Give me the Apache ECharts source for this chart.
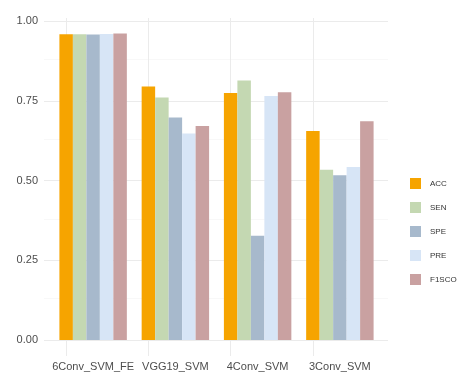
<!DOCTYPE html>
<html>
<head>
<meta charset="utf-8">
<script src="https://cdn.jsdelivr.net/npm/echarts@6/dist/echarts.min.js"></script>
<style>
  html, body { margin: 0; padding: 0; background: #fff; }
  #chart { width: 465px; height: 378px; }
</style>
</head>
<body>
<div id="chart"></div>
<script>
// 数据
const models = ['6Conv_SVM_FE', 'VGG19_SVM', '4Conv_SVM', '3Conv_SVM']
const metrics = ['ACC', 'SEN', 'SPE', 'PRE', 'F1SCO']
const acc = [0.959, 0.795, 0.775, 0.656]
const sen = [0.959, 0.761, 0.814, 0.534]
const spe = [0.958, 0.698, 0.327, 0.517]
const pre = [0.960, 0.648, 0.765, 0.543]
const f1sco = [0.961, 0.671, 0.777, 0.686]
const majorTicks = [0, 0.25, 0.5, 0.75, 1]
const minorTicks = [0.125, 0.375, 0.625, 0.875]

const colors = ['#F6A400', '#C4D8B2', '#A7B9CC', '#D7E5F6', '#C9A1A1']
const values = [acc, sen, spe, pre, f1sco]

const myChart = echarts.init(document.getElementById('chart'))

// 网格线 (ggplot 风格)
const vLines = models.map((m) => ({ xAxis: m, lineStyle: { color: '#EBEBEB', width: 1, type: 'solid' } }))
const hLines = [].concat(
  majorTicks.map((v) => ({ yAxis: v, lineStyle: { color: '#EBEBEB', width: 1, type: 'solid' } })),
  minorTicks.map((v) => ({ yAxis: v, lineStyle: { color: '#F4F4F4', width: 0.6, type: 'solid' } }))
)

const series = metrics.map((name, i) => {
  const s = {
    name: name,
    type: 'bar',
    data: values[i],
    itemStyle: { color: colors[i] },
    barGap: '0%',
    barCategoryGap: '18%'
  }
  if (i === 0) {
    s.markLine = { silent: true, symbol: 'none', z: 1, label: { show: false }, data: vLines }
  }
  return s
})
// 横向网格线放在更宽的面板里
series.push({
  type: 'line',
  xAxisIndex: 1,
  yAxisIndex: 1,
  data: [],
  z: 0,
  markLine: { silent: true, symbol: 'none', z: 0, label: { show: false }, data: hLines }
})

const yRange = { type: 'value', min: -0.05, max: 1.01, interval: 0.05 }

const option = {
  animation: false,
  backgroundColor: '#fff',
  grid: [
    { left: 52, right: 84, top: 18, bottom: 22 },
    { left: 44, right: 77, top: 18, bottom: 22 }
  ],
  legend: {
    orient: 'vertical',
    left: 410,
    top: 178,
    padding: 0,
    icon: 'rect',
    itemWidth: 11,
    itemHeight: 11,
    itemGap: 13,
    textStyle: { fontSize: 8, color: '#333', fontFamily: 'Liberation Sans', padding: [0, 0, 0, 4] },
    data: metrics
  },
  xAxis: [
    {
      type: 'category',
      data: models,
      axisLine: { show: false },
      axisTick: { show: false },
      splitLine: { show: false },
      axisLabel: { fontSize: 11, color: '#4D4D4D', fontFamily: 'Liberation Sans', margin: 5, interval: 0 }
    },
    { type: 'value', gridIndex: 1, show: false, min: 0, max: 1 }
  ],
  yAxis: [
    Object.assign({}, yRange, {
      axisLine: { show: false },
      axisTick: { show: false },
      splitLine: { show: false },
      axisLabel: {
        fontSize: 11,
        color: '#4D4D4D',
        fontFamily: 'Liberation Sans',
        margin: 14,
        formatter: (v) => {
          const q = v / 0.25
          return Math.abs(q - Math.round(q)) < 1e-6 && v > -0.01 ? v.toFixed(2) : ''
        }
      }
    }),
    Object.assign({}, yRange, { gridIndex: 1, show: false, splitLine: { show: false } })
  ],
  series: series
}

myChart.setOption(option)
</script>
</body>
</html>
